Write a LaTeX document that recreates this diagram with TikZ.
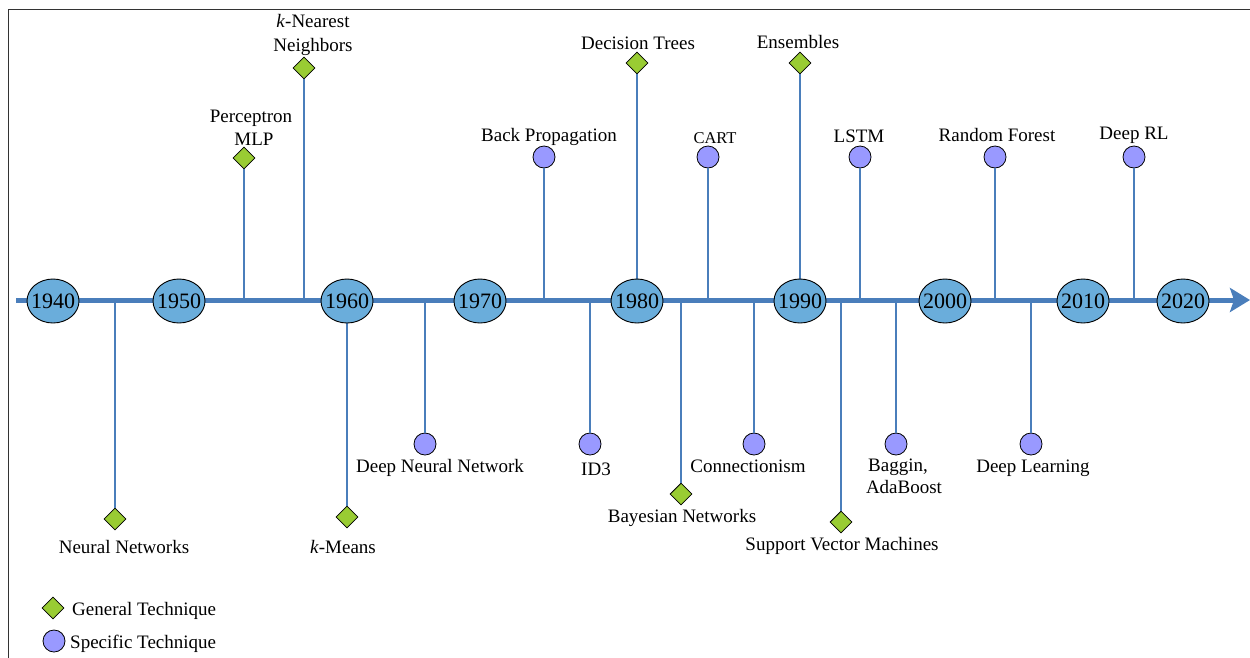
\documentclass[tikz,border=0pt]{standalone}
\usepackage{fontspec}
\setmainfont{Liberation Serif}
\usetikzlibrary{shapes.geometric,arrows.meta}
\definecolor{tlblue}{RGB}{74,126,187}
\definecolor{yearfill}{RGB}{106,173,219}
\definecolor{specfill}{RGB}{153,153,255}
\definecolor{genfill}{RGB}{153,204,51}
\begin{document}
\begin{tikzpicture}[x=1pt,y=-1pt,
  yearnode/.style={ellipse,draw=black,line width=0.9pt,fill=yearfill,minimum width=52pt,minimum height=44pt,inner xsep=-3.7pt,inner ysep=0pt,font=\fontsize{22}{24}\selectfont},
  genmark/.style={diamond,aspect=1,draw=black,line width=0.8pt,fill=genfill,minimum width=22pt,minimum height=22pt,inner sep=0pt},
  specmark/.style={circle,draw=black,line width=0.8pt,fill=specfill,minimum size=22pt,inner sep=0pt},
  lbl/.style={anchor=base,inner sep=0pt,font=\fontsize{19}{23}\selectfont},
  smalllbl/.style={anchor=base,inner sep=0pt,font=\fontsize{16.5}{20}\selectfont},
  stem/.style={draw=tlblue,line width=2pt},
  timeline/.style={draw=tlblue,line width=5pt,-{Stealth[length=20pt,width=24pt,inset=4pt]}},
  frame/.style={draw=black!80,line width=1pt}
]
\useasboundingbox (0,0) rectangle (1250,657);
\draw[frame] (8.5,680) -- (8.5,9.5) -- (1270,9.5);

\coordinate (tlstart) at (16,300);
\coordinate (tlend) at (1250,300);
\draw[timeline] (tlstart) -- (tlend);

% markers above
\node[genmark] (mlp) at (244,158) {};
\node[genmark] (knn) at (304,68) {};
\node[specmark] (bp) at (544,157) {};
\node[genmark] (dt) at (637,63) {};
\node[specmark] (cart) at (708,157) {};
\node[genmark] (ens) at (800,63) {};
\node[specmark] (lstm) at (860,157) {};
\node[specmark] (rf) at (995,157) {};
\node[specmark] (drl) at (1134,157) {};
% markers below
\node[genmark] (nn) at (115,519) {};
\node[genmark] (kmeans) at (347,517) {};
\node[specmark] (dnn) at (425,444) {};
\node[specmark] (id3) at (590,444) {};
\node[genmark] (bn) at (681,494) {};
\node[specmark] (conn) at (754,444) {};
\node[genmark] (svm) at (841,522) {};
\node[specmark] (bag) at (896,444) {};
\node[specmark] (dl) at (1031,444) {};

% stems
\foreach \m in {mlp,knn,bp,dt,cart,ens,lstm,rf,drl}
  \draw[stem] (\m.south) -- (\m |- tlstart);
\foreach \m in {nn,kmeans,dnn,id3,bn,conn,svm,bag,dl}
  \draw[stem] (\m.north) -- (\m |- tlstart);

% years
\node[yearnode] (y1940) at (53,301) {1940};
\node[yearnode] (y1950) at (179,301) {1950};
\node[yearnode] (y1960) at (347,301) {1960};
\node[yearnode] (y1970) at (480,301) {1970};
\node[yearnode] (y1980) at (637,301) {1980};
\node[yearnode] (y1990) at (800,301) {1990};
\node[yearnode] (y2000) at (945,301) {2000};
\node[yearnode] (y2010) at (1083,301) {2010};
\node[yearnode] (y2020) at (1183,301) {2020};

% labels above
\node[lbl] (lknna) at (313,27) {\textit{k}-Nearest};
\node[lbl] (lknnb) at (313,51) {Neighbors};
\node[lbl] (lmlpa) at (251,122) {Perceptron};
\node[lbl] (lmlpb) at (254,145) {MLP};
\node[lbl] (lbp) at (549,141) {Back Propagation};
\node[lbl] (ldt) at (638,49) {Decision Trees};
\node[smalllbl] (lcart) at (715,143) {CART};
\node[lbl] (lens) at (798,48) {Ensembles};
\node[lbl] (llstm) at (859,142) {LSTM};
\node[lbl] (lrf) at (997,141) {Random Forest};
\node[lbl] (ldrl) at (1134,139) {Deep RL};
% labels below
\node[lbl] (lnn) at (124,553) {Neural Networks};
\node[lbl] (lkmeans) at (343,553) {\textit{k}-Means};
\node[lbl] (ldnn) at (440,472) {Deep Neural Network};
\node[lbl] (lid3) at (596,475) {ID3};
\node[lbl] (lbn) at (682,522) {Bayesian Networks};
\node[lbl] (lconn) at (748,472) {Connectionism};
\node[lbl] (lsvm) at (842,550) {Support Vector Machines};
\node[lbl] (lbaga) at (898,471) {Baggin,};
\node[lbl] (lbagb) at (904,493) {AdaBoost};
\node[lbl] (ldl) at (1033,472) {Deep Learning};

% legend
\node[genmark] (leggen) at (53,608) {};
\node[anchor=base west,inner sep=0pt,font=\fontsize{19}{23}\selectfont] (leggent) at (72,615) {General Technique};
\node[specmark] (legspec) at (54,641) {};
\node[anchor=base west,inner sep=0pt,font=\fontsize{19}{23}\selectfont] (legspect) at (70,648) {Specific Technique};
\end{tikzpicture}
\end{document}
